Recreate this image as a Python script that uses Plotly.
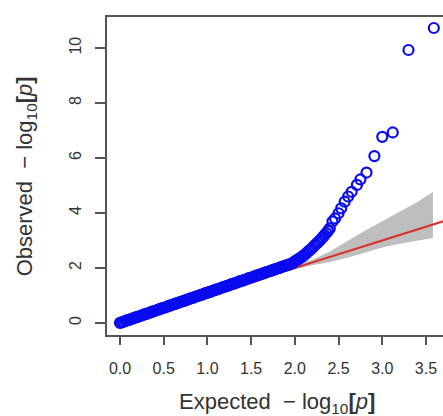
import plotly.graph_objects as go

# QQ points: expected -log10(p) and observed -log10(p)
expected = [0.00, 0.02, 0.04, 0.06, 0.08, 0.10, 0.12, 0.14, 0.16, 0.18,
            0.20, 0.22, 0.24, 0.26, 0.28, 0.30, 0.32, 0.34, 0.36, 0.38,
            0.40, 0.42, 0.44, 0.46, 0.48, 0.50, 0.52, 0.54, 0.56, 0.58,
            0.60, 0.62, 0.64, 0.66, 0.68, 0.70, 0.72, 0.74, 0.76, 0.78,
            0.80, 0.82, 0.84, 0.86, 0.88, 0.90, 0.92, 0.94, 0.96, 0.98,
            1.00, 1.02, 1.04, 1.06, 1.08, 1.10, 1.12, 1.14, 1.16, 1.18,
            1.20, 1.22, 1.24, 1.26, 1.28, 1.30, 1.32, 1.34, 1.36, 1.38,
            1.40, 1.42, 1.44, 1.46, 1.48, 1.50, 1.52, 1.54, 1.56, 1.58,
            1.60, 1.62, 1.64, 1.66, 1.68, 1.70, 1.72, 1.74, 1.76, 1.78,
            1.80, 1.82, 1.84, 1.86, 1.88, 1.90, 1.92, 1.94, 1.96, 1.98,
            2.00, 2.02, 2.04, 2.06, 2.08, 2.10, 2.12, 2.14, 2.16, 2.18,
            2.20, 2.22, 2.24, 2.26, 2.28, 2.30, 2.32, 2.34, 2.36, 2.38,
            2.40, 2.43, 2.46, 2.50, 2.53, 2.57, 2.61, 2.65, 2.71, 2.75,
            2.82, 2.91, 3.00, 3.12, 3.30, 3.59]
observed = [0.00, 0.02, 0.04, 0.07, 0.09, 0.11, 0.13, 0.15, 0.18, 0.20,
            0.22, 0.24, 0.26, 0.29, 0.31, 0.33, 0.35, 0.37, 0.40, 0.42,
            0.44, 0.46, 0.48, 0.51, 0.53, 0.55, 0.57, 0.59, 0.62, 0.64,
            0.66, 0.68, 0.70, 0.73, 0.75, 0.77, 0.79, 0.81, 0.84, 0.86,
            0.88, 0.90, 0.92, 0.95, 0.97, 0.99, 1.01, 1.03, 1.06, 1.08,
            1.10, 1.12, 1.14, 1.17, 1.19, 1.21, 1.23, 1.25, 1.28, 1.30,
            1.32, 1.34, 1.36, 1.39, 1.41, 1.43, 1.45, 1.47, 1.50, 1.52,
            1.54, 1.56, 1.58, 1.61, 1.63, 1.65, 1.67, 1.69, 1.72, 1.74,
            1.76, 1.78, 1.80, 1.83, 1.85, 1.87, 1.89, 1.91, 1.94, 1.96,
            1.98, 2.00, 2.02, 2.05, 2.07, 2.09, 2.11, 2.13, 2.16, 2.18,
            2.24, 2.28, 2.32, 2.36, 2.40, 2.45, 2.50, 2.56, 2.62, 2.67,
            2.73, 2.80, 2.86, 2.92, 2.98, 3.05, 3.12, 3.20, 3.27, 3.35,
            3.44, 3.69, 3.80, 3.99, 4.17, 4.41, 4.60, 4.77, 5.02, 5.22,
            5.47, 6.07, 6.77, 6.93, 9.93, 10.73]

# confidence band
band_x = [0.0, 0.5, 1.0, 1.5, 2.0, 2.2, 2.4, 2.6, 2.8, 3.0, 3.2, 3.4, 3.58]
band_lower = [0.0, 0.48, 0.97, 1.45, 1.95, 2.10, 2.22, 2.37, 2.55, 2.74, 2.88, 3.00, 3.09]
band_upper = [0.0, 0.52, 1.04, 1.57, 2.10, 2.30, 2.60, 2.98, 3.35, 3.70, 4.05, 4.40, 4.76]

# reference line y = x
ref_x = [0.0, 3.8]
ref_y = [0.0, 3.8]

x_ticks = [0.0, 0.5, 1.0, 1.5, 2.0, 2.5, 3.0, 3.5]
x_ticktext = ["0.0", "0.5", "1.0", "1.5", "2.0", "2.5", "3.0", "3.5"]
y_ticks = [0, 2, 4, 6, 8, 10]

FONT = "Liberation Sans, Arial, sans-serif"

fig = go.Figure()
fig.add_trace(go.Scatter(x=band_x, y=band_lower, mode="lines",
                         line=dict(width=0, color="#bebebe"), showlegend=False,
                         hoverinfo="skip"))
fig.add_trace(go.Scatter(x=band_x, y=band_upper, mode="lines", fill="tonexty",
                         fillcolor="#bebebe", line=dict(width=0, color="#bebebe"),
                         showlegend=False, hoverinfo="skip"))
fig.add_trace(go.Scatter(x=ref_x, y=ref_y, mode="lines",
                         line=dict(color="#d8302c", width=2), showlegend=False))
fig.add_trace(go.Scatter(x=expected, y=observed, mode="markers",
                         marker=dict(symbol="circle-open", size=10, color="#0a0af0",
                                     line=dict(width=2.2)),
                         showlegend=False, cliponaxis=False))

axis_common = dict(showgrid=False, zeroline=False, showline=True,
                   linecolor="#555555", linewidth=1.5, ticks="outside",
                   tickcolor="#555555", tickwidth=1.5,
                   tickfont=dict(family=FONT, size=16, color="#333333"))

fig.update_layout(
    width=443, height=416,
    margin=dict(l=107, r=0, t=17, b=81),
    paper_bgcolor="white", plot_bgcolor="white",
    xaxis=dict(range=[-0.149, 3.695], tickmode="array", tickvals=x_ticks,
               ticktext=x_ticktext, ticklen=8, mirror=True,
               ticklabelstandoff=10, **axis_common),
    yaxis=dict(range=[-0.44, 11.13], tickmode="array", tickvals=y_ticks,
               ticklen=10, tickangle=-90, ticklabelstandoff=8, **axis_common),
    annotations=[
        dict(text="Expected  \u2212 log<sub>10</sub><b>[</b><i>p</i><b>]</b>",
             xref="paper", yref="paper", x=0.506, y=-0.214,
             xanchor="center", yanchor="middle", showarrow=False,
             font=dict(family=FONT, size=22, color="#333333")),
        dict(text="Observed  \u2212 log<sub>10</sub><b>[</b><i>p</i><b>]</b>",
             xref="paper", yref="paper", x=-0.24, y=0.5, textangle=-90,
             xanchor="center", yanchor="middle", showarrow=False,
             font=dict(family=FONT, size=22, color="#333333")),
    ],
)

fig.write_html("out.html")
